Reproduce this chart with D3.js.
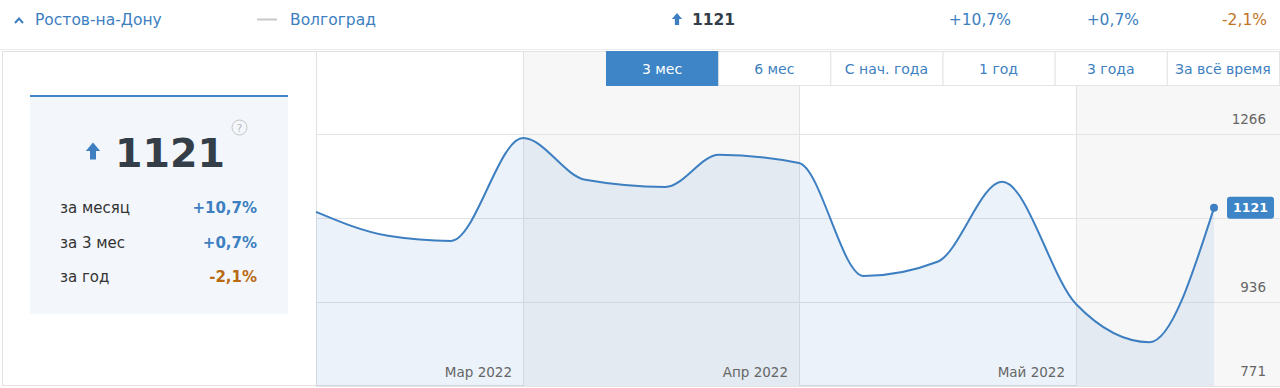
<!DOCTYPE html>
<html>
<head>
<meta charset="utf-8">
<script src="https://cdn.jsdelivr.net/npm/d3@7"></script>
<style>
  html, body { margin: 0; padding: 0; background: #fff; }
  svg { display: block; font-family: "DejaVu Sans", Verdana, sans-serif; }
</style>
</head>
<body>
<svg id="js-svg" width="1280" height="388"></svg>
<script>
// data
const dates = ["2022-02-06", "2022-02-14", "2022-02-21", "2022-03-01", "2022-03-08", "2022-03-17", "2022-03-23",
  "2022-04-01", "2022-04-08", "2022-04-16", "2022-04-23", "2022-05-01", "2022-05-09", "2022-05-16"];
const values = [1113, 1066, 1056, 1258, 1176, 1162, 1225, 1209, 987, 1015, 1172, 932, 857, 1121];
const yTicks = [771, 936, 1101, 1266];
const yLabels = ["771", "936", "", "1266"];
const ranges = ["3 мес", "6 мес", "С нач. года", "1 год", "3 года", "За всё время"];
const statLabels = ["за месяц", "за 3 мес", "за год"];
const statValues = ["+10,7%", "+0,7%", "-2,1%"];
const cities = ["Ростов-на-Дону", "Волгоград"];
const current = 1121;

const blue = "#3d7fc1";
const orange = "#b96a14";
const dark = "#343e49";

const parse = d3.timeParse("%Y-%m-%d");
const data = dates.map((d, i) => ({ date: parse(d), value: values[i] }));

const svg = d3.select("#js-svg");
const plotLeft = 316, plotRight = 1280, plotTop = 52, plotBottom = 386;

// month-by-month piecewise time scale (each month gets its own slot width)
const x = d3.scaleTime()
  .domain([parse("2022-02-06"), parse("2022-03-01"), parse("2022-04-01"), parse("2022-05-01"), parse("2022-05-16")])
  .range([plotLeft, 523, 799, 1076, 1214]);
const y = d3.scaleLinear().domain([771, 1266]).range([plotBottom, 134]);

// top row
const topRow = svg.append("g").style("font-size", "15.5px");
topRow.append("path")
  .attr("d", "M15,23 L19,18.5 L23,23")
  .attr("fill", "none").attr("stroke", blue).attr("stroke-width", 2);
topRow.append("text").attr("x", 35).attr("y", 25).attr("fill", blue).text(cities[0]);
topRow.append("line").attr("x1", 257).attr("x2", 277).attr("y1", 19.5).attr("y2", 19.5)
  .attr("stroke", "#c8c8c8").attr("stroke-width", 2);
topRow.append("text").attr("x", 290).attr("y", 25).attr("fill", blue).text(cities[1]);

const arrow = (g, cx, cy, s) => g.append("path")
  .attr("d", "M0,-7 L6,0 L2.5,0 L2.5,7 L-2.5,7 L-2.5,0 L-6,0 Z")
  .attr("transform", `translate(${cx},${cy}) scale(${s})`)
  .attr("fill", blue);
arrow(topRow, 677, 19, 0.85);
topRow.append("text").attr("x", 692).attr("y", 25).attr("fill", dark)
  .attr("font-weight", "bold").text(current);
const topX = [1011, 1139, 1267];
statValues.forEach((v, i) => {
  topRow.append("text").attr("x", topX[i]).attr("y", 25).attr("text-anchor", "end")
    .attr("fill", v.startsWith("-") ? "#c0741f" : blue).text(v);
});
svg.append("line").attr("x1", 0).attr("x2", 1280).attr("y1", 49.5).attr("y2", 49.5)
  .attr("stroke", "#ececec");

// panel frame
svg.append("rect").attr("x", 2.5).attr("y", 51.5).attr("width", 1276).attr("height", 334)
  .attr("fill", "none").attr("stroke", "#e2e2e2");

// month bands
const start = x.domain()[0], end = x.domain()[x.domain().length - 1];
const months = d3.timeMonth.range(d3.timeMonth.ceil(start), end);
const bandEdges = [start, ...months];
bandEdges.forEach((d, i) => {
  if (i % 2 === 1) {
    const x0 = x(d);
    const x1 = i + 1 < bandEdges.length ? x(bandEdges[i + 1]) : plotRight;
    svg.append("rect").attr("x", x0).attr("y", plotTop).attr("width", x1 - x0)
      .attr("height", plotBottom - plotTop).attr("fill", "#f7f7f7");
  }
});

// grid
svg.append("g").selectAll("line").data(yTicks).join("line")
  .attr("x1", plotLeft).attr("x2", plotRight)
  .attr("y1", d => Math.round(y(d)) + 0.5).attr("y2", d => Math.round(y(d)) + 0.5)
  .attr("stroke", "#e3e3e3");
svg.append("g").selectAll("line").data(months).join("line")
  .attr("x1", d => Math.round(x(d)) + 0.5).attr("x2", d => Math.round(x(d)) + 0.5)
  .attr("y1", plotTop).attr("y2", plotBottom)
  .attr("stroke", "#e2e2e2");
svg.append("line").attr("x1", plotLeft + 0.5).attr("x2", plotLeft + 0.5).attr("y1", plotTop).attr("y2", plotBottom)
  .attr("stroke", "#e2e2e2");

// area + line
svg.append("path").datum(data)
  .attr("d", d3.area().x(d => x(d.date)).y0(plotBottom).y1(d => y(d.value)).curve(d3.curveMonotoneX))
  .attr("fill", "rgba(61,127,193,0.1)");
svg.append("path").datum(data)
  .attr("d", d3.line().x(d => x(d.date)).y(d => y(d.value)).curve(d3.curveMonotoneX))
  .attr("fill", "none").attr("stroke", blue).attr("stroke-width", 2);
const last = data[data.length - 1];
svg.append("circle").attr("cx", x(last.date)).attr("cy", y(last.value)).attr("r", 4).attr("fill", blue);

// axis labels
const fmt = d3.timeFormat("%m");
const ruMonths = { "01": "Янв", "02": "Фев", "03": "Мар", "04": "Апр", "05": "Май", "06": "Июн" };
svg.append("g").style("font-size", "13.5px").selectAll("text").data(months).join("text")
  .attr("x", d => x(d) - 11).attr("y", 377).attr("text-anchor", "end").attr("fill", "#666")
  .text(d => `${ruMonths[fmt(d)]} 2022`);
svg.append("g").style("font-size", "13.5px").selectAll("text").data(yTicks).join("text")
  .attr("x", 1266).attr("y", d => y(d) - 10).attr("text-anchor", "end").attr("fill", "#666")
  .text((d, i) => yLabels[i]);

// current value badge
svg.append("rect").attr("x", 1227).attr("y", y(current) - 11).attr("width", 47).attr("height", 22)
  .attr("rx", 3).attr("fill", "#3d85c6");
svg.append("text").attr("x", 1250.5).attr("y", y(current) + 4.5).attr("text-anchor", "middle")
  .attr("fill", "#fff").attr("font-weight", "bold").style("font-size", "12.5px").text(current);

// range buttons
const bx = d3.scaleBand().domain(ranges).range([606, 1279]);
const btn = svg.append("g").style("font-size", "14px");
ranges.forEach((r, i) => {
  const active = i === 0;
  btn.append("rect").attr("x", bx(r) + 0.5).attr("y", 51.5).attr("width", bx.bandwidth())
    .attr("height", 34).attr("fill", active ? "#3d85c6" : "#fff")
    .attr("stroke", active ? "#3d85c6" : "#e4e4e4");
  btn.append("text").attr("x", bx(r) + bx.bandwidth() / 2).attr("y", 74).attr("text-anchor", "middle")
    .attr("fill", active ? "#fff" : blue).text(r);
});

// summary card
const card = svg.append("g");
card.append("rect").attr("x", 30).attr("y", 96).attr("width", 258).attr("height", 218).attr("fill", "#f3f7fb");
card.append("rect").attr("x", 30).attr("y", 95).attr("width", 258).attr("height", 2).attr("fill", "#3d85c6");
arrow(card, 93, 151, 1.2);
card.append("text").attr("x", 170).attr("y", 167).attr("text-anchor", "middle").attr("fill", dark)
  .attr("font-weight", "bold").style("font-size", "39.5px").text(current);
card.append("circle").attr("cx", 239.5).attr("cy", 127.5).attr("r", 7.5).attr("fill", "none")
  .attr("stroke", "#c4c4c4");
card.append("text").attr("x", 239.5).attr("y", 131.5).attr("text-anchor", "middle").attr("fill", "#bbb")
  .style("font-size", "11px").text("?");
statLabels.forEach((l, i) => {
  const yy = 213 + i * 34.5;
  card.append("text").attr("x", 60).attr("y", yy).attr("fill", "#333").style("font-size", "15px").text(l);
  card.append("text").attr("x", 257).attr("y", yy).attr("text-anchor", "end")
    .attr("fill", statValues[i].startsWith("-") ? orange : blue)
    .attr("font-weight", "bold").style("font-size", "15px").text(statValues[i]);
});
</script>
</body>
</html>
